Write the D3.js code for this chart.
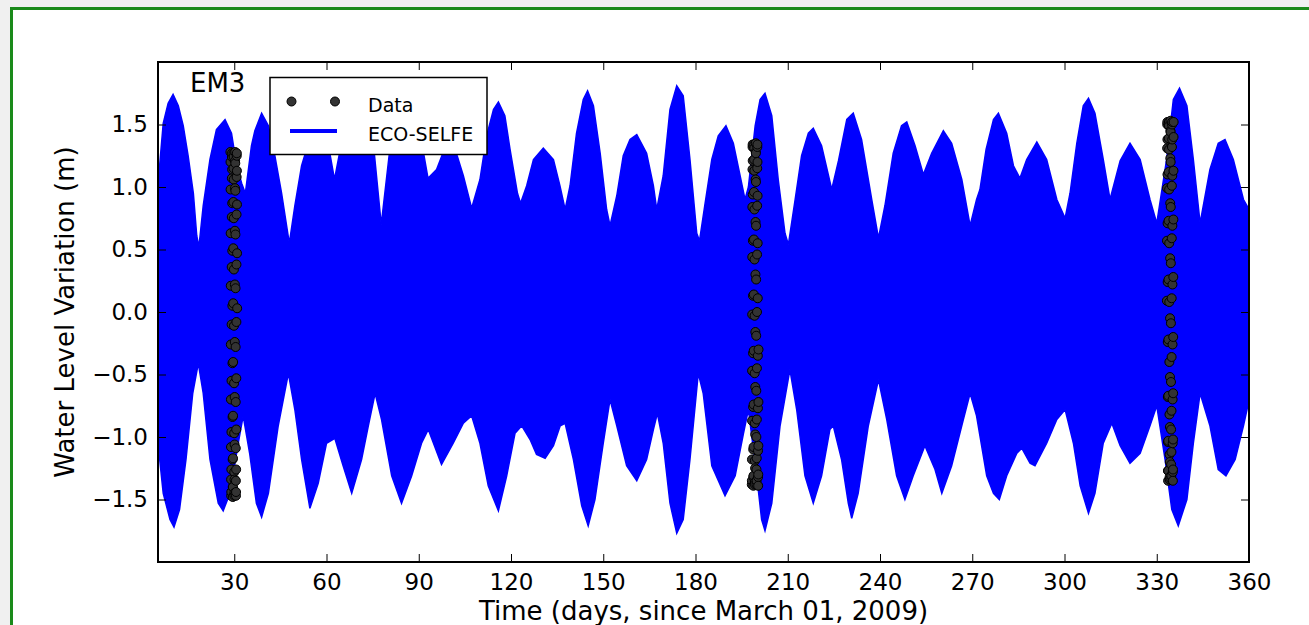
<!DOCTYPE html>
<html>
<head>
<meta charset="utf-8">
<script src="https://cdn.jsdelivr.net/npm/d3@7"></script>
<style>
  html, body { margin: 0; padding: 0; background: #f0f0f0; }
  svg { display: block; }
  text { font-family: "DejaVu Sans", sans-serif; fill: #000; }
</style>
</head>
<body>
<svg id="chart" width="1309" height="625"></svg>
<script>
// x tick labels (days) and y tick labels (m)
var xTicks = [30, 60, 90, 120, 150, 180, 210, 240, 270, 300, 330, 360];
var yTicks = [-1.5, -1.0, -0.5, 0.0, 0.5, 1.0, 1.5];

// ECO-SELFE envelope, upper side: [day, level m]
var modelHigh = [
  [5.2,1.02],[6.9,1.51],[8.5,1.67],[10.1,1.74],[11.8,1.65],[13.4,1.49],[15.0,1.25],[16.7,0.95],[17.8,0.61],[18.5,0.52],
  [19.9,0.85],[22.1,1.22],[24.2,1.46],[27.0,1.54],[29.1,1.43],[30.8,1.17],[32.4,1.03],[33.6,0.95],[35.6,1.33],[36.7,1.45],
  [38.9,1.59],[41.1,1.49],[43.2,1.25],[45.4,0.95],[47.9,0.55],[49.7,0.85],[51.9,1.17],[54.1,1.35],[56.0,1.55],[58.5,1.45],
  [61.0,1.28],[62.6,1.06],[64.3,1.28],[67.0,1.35],[70.0,1.40],[73.0,1.38],[75.5,1.28],[77.8,0.70],[80.5,1.28],[83.0,1.50],
  [85.5,1.58],[88.5,1.45],[91.5,1.28],[93.0,1.07],[95.8,1.14],[98.0,1.28],[100.0,1.33],[102.5,1.25],[104.5,1.09],[107.2,0.83],
  [109.9,1.06],[112.1,1.41],[114.3,1.62],[115.9,1.68],[118.0,1.57],[119.7,1.30],[122.1,0.95],[123.1,0.87],[125.1,1.01],[127.3,1.22],
  [130.5,1.31],[133.8,1.22],[135.9,1.01],[137.6,0.82],[139.2,1.01],[141.3,1.43],[143.5,1.70],[144.9,1.77],[146.8,1.65],[149.0,1.27],
  [151.1,0.82],[152.2,0.69],[154.4,0.93],[156.5,1.25],[158.7,1.38],[160.9,1.42],[164.1,1.27],[166.3,1.01],[167.4,0.82],[169.5,1.09],
  [171.7,1.62],[173.9,1.81],[176.0,1.73],[178.2,1.22],[180.4,0.63],[181.3,0.57],[183.0,0.85],[185.3,1.22],[187.4,1.41],[189.9,1.49],
  [192.3,1.35],[194.5,1.09],[196.1,0.90],[197.2,1.00],[199.4,1.49],[201.0,1.70],[202.6,1.75],[204.8,1.57],[206.9,1.06],[209.1,0.63],
  [210.2,0.54],[212.4,0.90],[214.5,1.25],[216.7,1.43],[218.3,1.47],[221.0,1.33],[224.3,0.98],[226.5,1.21],[229.2,1.54],[231.3,1.59],
  [234.0,1.38],[237.3,0.90],[239.5,0.59],[241.6,0.85],[244.3,1.27],[247.0,1.49],[248.7,1.52],[251.4,1.33],[254.1,1.10],[256.8,1.27],
  [260.6,1.45],[263.3,1.35],[266.6,1.06],[269.3,0.69],[271.4,0.90],[272.5,0.98],[274.5,1.30],[276.9,1.54],[278.5,1.59],[281.2,1.43],
  [283.4,1.17],[285.5,1.07],[287.7,1.22],[291.0,1.36],[294.2,1.22],[297.5,0.90],[300.2,0.75],[301.8,0.95],[304.0,1.35],[306.1,1.65],
  [307.8,1.71],[309.9,1.59],[312.6,1.22],[314.8,0.90],[318.1,1.21],[321.3,1.35],[324.6,1.22],[327.8,0.90],[330.0,0.71],[333.2,1.22],
  [335.4,1.70],[337.4,1.79],[339.8,1.65],[341.9,1.22],[344.1,0.71],[347.3,1.14],[350.0,1.35],[352.2,1.38],[354.9,1.22],[358.2,0.90],
  [359.8,0.83],[360.5,0.82]
];

// ECO-SELFE envelope, lower side: [day, level m]
var modelLow = [
  [5.2,-1.05],[6.9,-1.45],[9.1,-1.66],[10.4,-1.72],[12.2,-1.58],[14.3,-1.18],[16.5,-0.65],[18.3,-0.41],[19.9,-0.65],[22.1,-1.18],
  [24.8,-1.53],[26.4,-1.59],[28.6,-1.45],[31.3,-1.05],[32.9,-0.83],[35.0,-1.13],[37.2,-1.53],[38.9,-1.64],[41.1,-1.45],[44.3,-0.91],
  [47.6,-0.49],[49.7,-0.78],[51.9,-1.18],[54.6,-1.57],[57.3,-1.37],[60.0,-1.05],[62.7,-1.01],[65.4,-1.23],[68.2,-1.45],[71.4,-1.18],
  [73.6,-0.91],[75.8,-0.65],[77.9,-0.86],[81.2,-1.31],[84.4,-1.53],[87.7,-1.31],[90.9,-1.05],[93.1,-0.94],[97.4,-1.22],[101.2,-1.05],
  [104.5,-0.89],[107.2,-0.83],[109.9,-1.05],[112.6,-1.39],[115.9,-1.59],[118.6,-1.31],[121.3,-0.97],[123.5,-0.91],[126.2,-1.02],[128.3,-1.14],
  [131.1,-1.17],[133.8,-1.07],[136.0,-0.91],[137.6,-0.89],[140.3,-1.18],[143.0,-1.55],[145.1,-1.71],[147.3,-1.50],[150.0,-1.05],[152.2,-0.70],
  [154.4,-0.91],[157.6,-1.23],[160.9,-1.35],[164.1,-1.18],[166.3,-0.94],[167.6,-0.81],[169.5,-1.05],[171.7,-1.53],[173.9,-1.77],[176.0,-1.66],
  [178.2,-1.18],[180.9,-0.49],[182.5,-0.65],[185.3,-1.23],[189.6,-1.47],[192.9,-1.31],[195.6,-0.97],[197.2,-0.78],[199.9,-1.31],[201.5,-1.66],
  [202.6,-1.75],[204.8,-1.53],[207.5,-0.91],[210.7,-0.46],[212.9,-0.78],[215.6,-1.31],[218.3,-1.53],[221.0,-1.31],[223.7,-0.94],[224.8,-0.91],
  [227.5,-1.18],[229.7,-1.53],[230.8,-1.65],[232.9,-1.45],[236.2,-0.91],[239.5,-0.54],[242.2,-0.86],[245.4,-1.31],[248.1,-1.50],[250.8,-1.31],
  [254.6,-1.07],[257.9,-1.26],[260.1,-1.45],[263.3,-1.23],[267.1,-0.86],[269.3,-0.65],[271.4,-0.83],[272.5,-0.99],[274.7,-1.31],[276.9,-1.45],
  [278.8,-1.50],[281.2,-1.31],[284.5,-1.13],[286.1,-1.09],[288.8,-1.21],[290.4,-1.23],[294.2,-1.05],[297.5,-0.86],[300.2,-0.78],[302.9,-1.05],
  [305.1,-1.39],[307.8,-1.61],[309.9,-1.45],[312.6,-1.05],[315.4,-0.89],[318.1,-1.07],[321.3,-1.21],[324.6,-1.13],[327.8,-0.91],[330.0,-0.75],
  [332.7,-1.18],[334.9,-1.58],[337.0,-1.71],[339.8,-1.50],[341.9,-1.05],[344.1,-0.65],[347.3,-0.91],[350.0,-1.26],[352.5,-1.31],[355.5,-1.18],
  [358.2,-0.91],[359.8,-0.73],[360.5,-0.72]
];

// observed water level (m), three short campaigns sampled every 40 min
var obsStep = 1 / 36;
var obsAprStart = 28.75;
var obsApr = [
  1.28, 1.20, 0.98, 0.63, 0.21, -0.26, -0.70, -1.08, -1.34, -1.47,
  -1.44, -1.26, -0.96, -0.55, -0.10, 0.36, 0.76, 1.07, 1.24, 1.27,
  1.14, 0.87, 0.49, 0.05, -0.41, -0.84, -1.18, -1.40, -1.48, -1.40,
  -1.17, -0.83, -0.40, 0.07, 0.51, 0.88, 1.15, 1.27, 1.24, 1.06,
  0.75, 0.34, -0.11, -0.57, -0.97, -1.28, -1.45, -1.47, -1.34, -1.06,
  -0.68, -0.24, 0.22, 0.65, 0.99, 1.21, 1.28, 1.19, 0.97, 0.62,
  0.19, -0.28, -0.72, -1.09, -1.35, -1.47, -1.44, -1.26, -0.94, -0.53,
  -0.08, 0.38, 0.78, 1.08, 1.25, 1.27, 1.13, 0.86, 0.47, 0.03
];
var obsSepStart = 198.3;
var obsSep = [
  -1.38, -1.35, -1.18, -0.87, -0.47, -0.02, 0.44, 0.84, 1.14, 1.32,
  1.34, 1.21, 0.94, 0.57, 0.13, -0.33, -0.76, -1.10, -1.32, -1.39,
  -1.31, -1.08, -0.74, -0.31, 0.14, 0.58, 0.96, 1.22, 1.34, 1.31,
  1.13, 0.82, 0.42, -0.03, -0.49, -0.89, -1.19, -1.36, -1.38, -1.25,
  -0.98, -0.60, -0.16, 0.30, 0.72, 1.06, 1.28, 1.35, 1.27, 1.04,
  0.69, 0.26, -0.19, -0.63, -1.00, -1.26, -1.38, -1.35, -1.17, -0.86,
  -0.45, 0.00, 0.46, 0.85, 1.15, 1.32, 1.34, 1.20, 0.93, 0.55,
  0.11, -0.35, -0.77, -1.11, -1.32, -1.39, -1.30, -1.07, -0.72, -0.30
];
var obsJanStart = 333.3;
var obsJan = [
  0.09, 0.57, 0.99, 1.31, 1.50, 1.52, 1.38, 1.10, 0.71, 0.24,
  -0.24, -0.68, -1.04, -1.27, -1.35, -1.27, -1.03, -0.67, -0.22, 0.26,
  0.73, 1.12, 1.39, 1.52, 1.49, 1.30, 0.98, 0.55, 0.08, -0.40,
  -0.82, -1.14, -1.32, -1.34, -1.20, -0.92, -0.52, -0.05, 0.43, 0.87,
  1.23, 1.45, 1.53, 1.44, 1.20, 0.84, 0.39, -0.09, -0.56, -0.94,
  -1.22, -1.34, -1.31, -1.12, -0.79, -0.36, 0.11, 0.59, 1.01, 1.32,
  1.50, 1.52, 1.38, 1.09, 0.69, 0.22, -0.26, -0.70, -1.05, -1.28,
  -1.35, -1.26, -1.02, -0.65, -0.20, 0.28, 0.74, 1.13, 1.40, 1.52
];

var svg = d3.select('#chart');
var padL = 158, padT = 62, plotW = 1091, plotH = 500;

// page frame
svg.append('rect').attr('x', 11.5).attr('y', 8.5).attr('width', 1340).attr('height', 660)
  .style('fill', '#fff').style('stroke', '#1a8a1a').style('stroke-width', 3);

var x = d3.scaleLinear().domain([5.2, 360]).range([padL, padL + plotW]);
var y = d3.scaleLinear().domain([-2, 2]).range([padT + plotH, padT]);

svg.append('clipPath').attr('id', 'plotclip').append('rect')
  .attr('x', padL).attr('y', padT).attr('width', plotW).attr('height', plotH);
var g = svg.append('g').attr('clip-path', 'url(#plotclip)');

var area = d3.area().x(d => x(d[0])).y0(y(0)).y1(d => y(d[1]));
g.append('path').datum(modelHigh).attr('d', area).style('fill', '#0000ff').style('stroke', '#0000ff').style('stroke-width', 1.5);
g.append('path').datum(modelLow).attr('d', area).style('fill', '#0000ff').style('stroke', '#0000ff').style('stroke-width', 1.5);

function toPoints(start, vals) {
  return vals.map((v, i) => [start + i * obsStep, v]);
}
var obs = toPoints(obsAprStart, obsApr).concat(toPoints(obsSepStart, obsSep), toPoints(obsJanStart, obsJan));
g.append('g').selectAll('circle').data(obs).enter().append('circle')
  .attr('cx', d => x(d[0])).attr('cy', d => y(d[1])).attr('r', 4.5)
  .style('fill', '#333').style('stroke', '#000').style('stroke-width', 1);

// axes, ticks pointing in
var fmt = d3.format('.1f');
var xb = svg.append('g').attr('transform', 'translate(0,' + (padT + plotH) + ')')
  .call(d3.axisBottom(x).tickValues(xTicks).tickSizeInner(-8).tickSizeOuter(0).tickPadding(12));
var xt = svg.append('g').attr('transform', 'translate(0,' + padT + ')')
  .call(d3.axisTop(x).tickValues(xTicks).tickSizeInner(-8).tickSizeOuter(0).tickFormat(''));
var yl = svg.append('g').attr('transform', 'translate(' + padL + ',0)')
  .call(d3.axisLeft(y).tickValues(yTicks).tickSizeInner(-8).tickSizeOuter(0).tickPadding(10).tickFormat(fmt));
var yr = svg.append('g').attr('transform', 'translate(' + (padL + plotW) + ',0)')
  .call(d3.axisRight(y).tickValues(yTicks).tickSizeInner(-8).tickSizeOuter(0).tickFormat(''));
[xb, xt, yl, yr].forEach(function(a) {
  a.select('.domain').remove();
  a.selectAll('line').style('stroke', '#000').style('stroke-width', 1);
  a.selectAll('text').style('font-family', '"DejaVu Sans", sans-serif').style('font-size', '23px').style('fill', '#000');
});

svg.append('rect').attr('x', padL).attr('y', padT).attr('width', plotW).attr('height', plotH)
  .style('fill', 'none').style('stroke', '#000').style('stroke-width', 2);

// axis titles
svg.append('text').attr('x', padL + plotW / 2).attr('y', 620).attr('text-anchor', 'middle')
  .style('font-size', '26px').text('Time (days, since March 01, 2009)');
svg.append('text').attr('transform', 'translate(74,' + (padT + plotH / 2) + ') rotate(-90)')
  .attr('text-anchor', 'middle').style('font-size', '26px').text('Water Level Variation (m)');

// station label
svg.append('text').attr('x', 190).attr('y', 92).style('font-size', '26px').text('EM3');

// legend
var lg = svg.append('g');
lg.append('rect').attr('x', 270).attr('y', 77.5).attr('width', 217).attr('height', 77)
  .style('fill', '#fff').style('stroke', '#000').style('stroke-width', 1.5);
lg.selectAll('circle').data([291.5, 335]).enter().append('circle')
  .attr('cx', d => d).attr('cy', 101.5).attr('r', 4.5)
  .style('fill', '#333').style('stroke', '#000').style('stroke-width', 1);
lg.append('text').attr('x', 368).attr('y', 112).style('font-size', '19px').text('Data');
lg.append('line').attr('x1', 290).attr('x2', 337).attr('y1', 131).attr('y2', 131)
  .style('stroke', '#0000ff').style('stroke-width', 4);
lg.append('text').attr('x', 368).attr('y', 141).style('font-size', '19px').text('ECO-SELFE');
</script>
</body>
</html>
